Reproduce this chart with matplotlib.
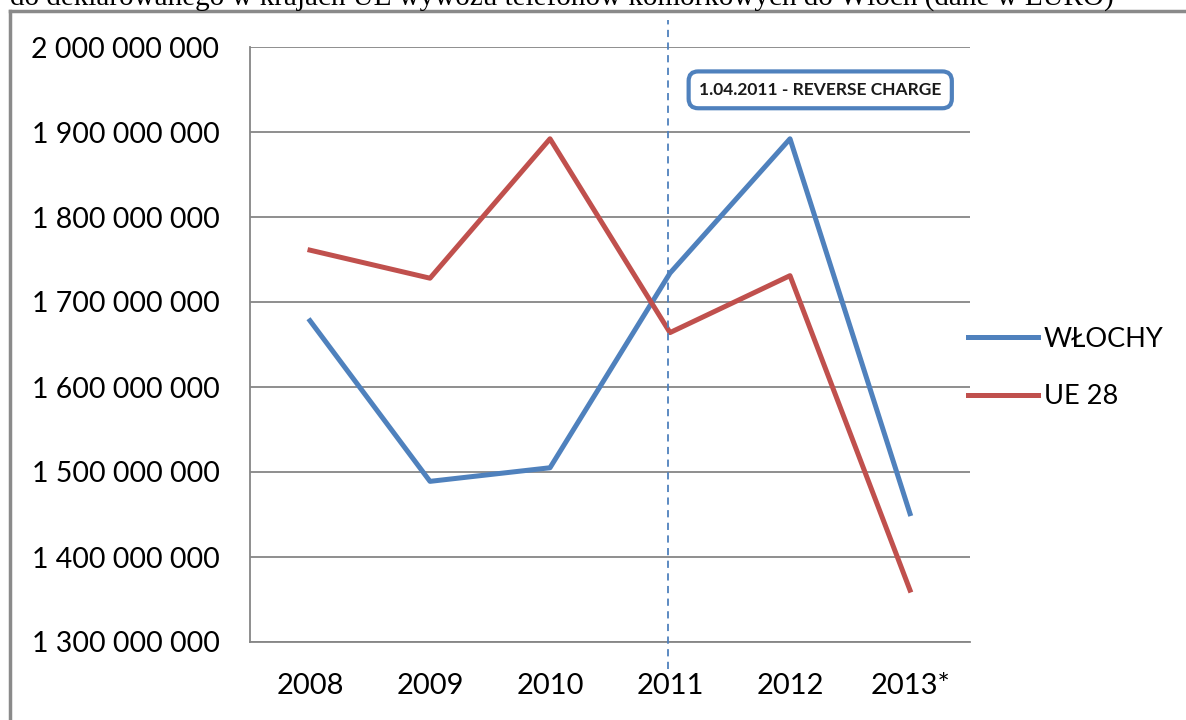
import numpy as np
import matplotlib.pyplot as plt
from matplotlib.lines import Line2D
from matplotlib.ticker import FuncFormatter

# dane
lata = ['2008', '2009', '2010', '2011', '2012', '2013*']
wlochy = [1678e6, 1489e6, 1505e6, 1734e6, 1892e6, 1451e6]
ue28 = [1761e6, 1728e6, 1892e6, 1664e6, 1731e6, 1361e6]
rok_rc = '2011'
opis_rc = '1.04.2011 - REVERSE CHARGE'
naglowek = 'do deklarowanego w krajach UE wywozu telefonów komórkowych do Włoch (dane w EURO)'

niebieski = '#4F81BD'
czerwony = '#C0504D'
szary = '#868686'

plt.rcParams['font.family'] = ['Lato', 'DejaVu Sans']

fig = plt.figure(figsize=(11.86, 7.2), dpi=100)
ax = fig.add_axes([250/1186, 1 - 642/720, 720/1186, 595/720])

x = np.arange(len(lata))
ax.plot(x, wlochy, color=niebieski, lw=3.6, label='WŁOCHY', solid_joinstyle='round')
ax.plot(x, ue28, color=czerwony, lw=3.6, label='UE 28', solid_joinstyle='round')

ax.set_xlim(-0.5, len(lata) - 0.5)
ax.set_ylim(1.3e9, 2.0e9)
ax.set_yticks(np.arange(1.3e9, 2.0e9 + 1, 1e8))
ax.yaxis.set_major_formatter(FuncFormatter(lambda v, p: f'{int(round(v)):,}'.replace(',', ' ')))
ax.set_xticks(x)
ax.set_xticklabels(lata)
ax.tick_params(axis='both', length=0, colors='#000000')
ax.tick_params(axis='y', pad=22, labelsize=20.5)
ax.tick_params(axis='x', pad=22, labelsize=21)

ax.grid(axis='y', color=szary, lw=1.3)
ax.set_axisbelow(True)
for s in ['top', 'right']:
    ax.spines[s].set_visible(False)
for s in ['left', 'bottom']:
    ax.spines[s].set_color(szary)
    ax.spines[s].set_linewidth(1.3)

# linia przerywana - reverse charge
xr = lata.index(rok_rc) - 0.015
ax.plot([xr, xr], [-0.045, 1.045], transform=ax.get_xaxis_transform(),
        color=niebieski, lw=1.3, ls=(0, (4, 3)), clip_on=False, zorder=5)

ax.text(0.792, 0.928, opis_rc, transform=ax.transAxes, ha='center', va='center',
        fontsize=12.5, fontweight='bold', color='#1a1a1a', zorder=6,
        bbox=dict(boxstyle='round,pad=0.6,rounding_size=0.55', fc='white',
                  ec=niebieski, lw=3))

fig.legend(loc='center left', bbox_to_anchor=(968/1186, 1 - 368/720), frameon=False,
           fontsize=19.5, handlelength=2.6, handletextpad=0.2, labelspacing=1.2,
           borderpad=0, borderaxespad=0)

# ramka
fig.add_artist(Line2D([10/1186, 10/1186], [0, 1 - 11/720], color='#8a8a8a', lw=2.5))
fig.add_artist(Line2D([10/1186, 1], [1 - 11/720, 1 - 11/720], color='#8a8a8a', lw=2.5))

# nagłówek (ucięty u góry)
fig.text(10/1186, 1 - 5/720, naglowek, ha='left', va='baseline', fontsize=21,
         family='Liberation Serif', color='black')

fig.savefig('out.png', dpi=100, facecolor='white')
